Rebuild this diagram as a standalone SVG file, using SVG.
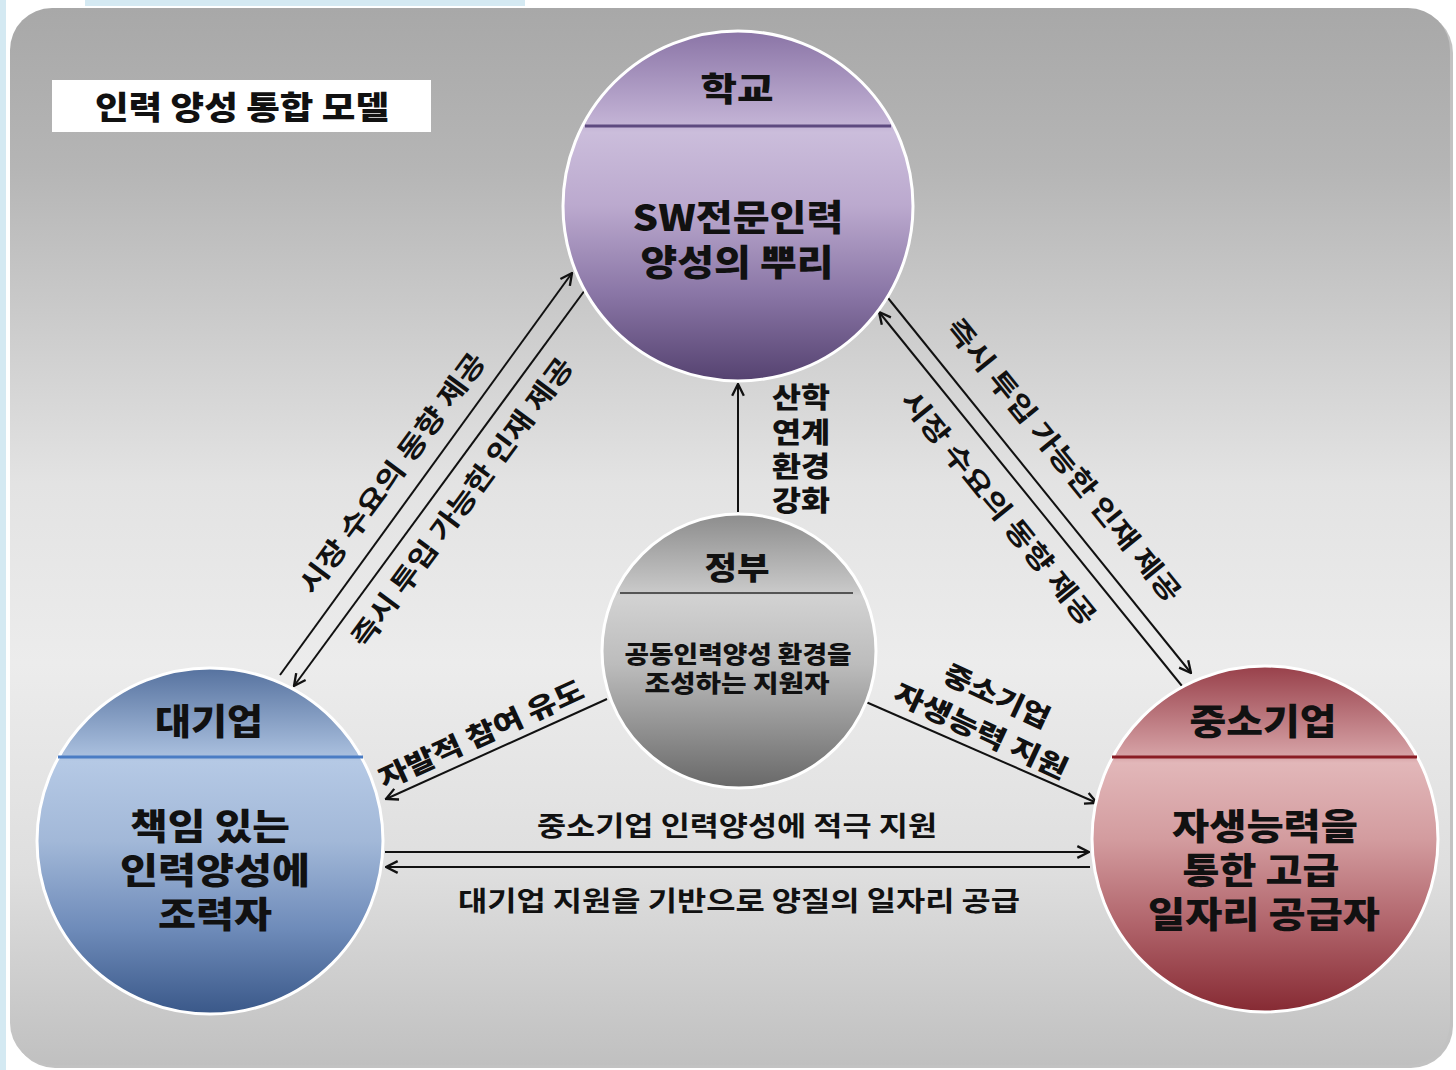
<svg xmlns="http://www.w3.org/2000/svg" width="1456" height="1070" viewBox="0 0 1456 1070">
<defs>
<style>
text{font-family:"Noto Sans CJK KR","Noto Sans CJK SC",sans-serif;font-weight:900;fill:#111;text-anchor:middle}
.head{font-size:36px}
.body{font-size:36px}
.gov{font-size:24px}
.lbl{font-size:27px;font-weight:700}
.conn line{stroke:#111;stroke-width:2;marker-end:url(#arr)}
.circ{stroke:#fff;stroke-width:3}
</style>
<marker id="arr" viewBox="0 0 12 12" markerUnits="userSpaceOnUse" markerWidth="14" markerHeight="14" refX="11" refY="6" orient="auto">
<path d="M1,1 L11,6 L1,11" fill="none" stroke="#111" stroke-width="2"/>
</marker>
<linearGradient id="bg" x1="0" y1="0" x2="0" y2="1">
<stop offset="0" stop-color="#a8a8a8"/>
<stop offset="0.15" stop-color="#b5b5b5"/>
<stop offset="0.45" stop-color="#e3e3e3"/>
<stop offset="0.62" stop-color="#ececec"/>
<stop offset="0.82" stop-color="#dedede"/>
<stop offset="1" stop-color="#c0c0c0"/>
</linearGradient>
<linearGradient id="gp" x1="0" y1="0" x2="0" y2="1">
<stop offset="0" stop-color="#8a74a6"/>
<stop offset="0.27" stop-color="#c4b4d6"/>
<stop offset="0.29" stop-color="#cbbddb"/>
<stop offset="0.5" stop-color="#bba9ce"/>
<stop offset="0.75" stop-color="#8a76a6"/>
<stop offset="1" stop-color="#554270"/>
</linearGradient>
<linearGradient id="gb" x1="0" y1="0" x2="0" y2="1">
<stop offset="0" stop-color="#56729f"/>
<stop offset="0.25" stop-color="#a8bedd"/>
<stop offset="0.27" stop-color="#b5c9e5"/>
<stop offset="0.5" stop-color="#a2b8d8"/>
<stop offset="0.75" stop-color="#6f8cba"/>
<stop offset="1" stop-color="#3a5889"/>
</linearGradient>
<linearGradient id="gr" x1="0" y1="0" x2="0" y2="1">
<stop offset="0" stop-color="#98404a"/>
<stop offset="0.26" stop-color="#d6a2a6"/>
<stop offset="0.28" stop-color="#e2b7b9"/>
<stop offset="0.5" stop-color="#d39c9f"/>
<stop offset="0.75" stop-color="#b0636a"/>
<stop offset="1" stop-color="#862a33"/>
</linearGradient>
<linearGradient id="gg" x1="0" y1="0" x2="0" y2="1">
<stop offset="0" stop-color="#8c8c8c"/>
<stop offset="0.28" stop-color="#c8c8c8"/>
<stop offset="0.3" stop-color="#d2d2d2"/>
<stop offset="0.55" stop-color="#bcbcbc"/>
<stop offset="0.8" stop-color="#8e8e8e"/>
<stop offset="1" stop-color="#686868"/>
</linearGradient>
</defs>
<rect x="0" y="0" width="1456" height="1070" fill="#ffffff"/>
<rect x="0" y="0" width="6" height="1070" fill="#d4e9f2"/>
<rect x="85" y="0" width="440" height="6" fill="#d4e9f2"/>
<rect x="13" y="11" width="1440" height="1057" rx="42" fill="#9a9a9a" opacity="0.6"/>
<rect x="10" y="8" width="1440" height="1057" rx="42" fill="url(#bg)"/>
<g id="title">
<rect x="52" y="80" width="379" height="52" fill="#fff"/>
<text x="242" y="119" style="font-size:32px" textLength="294" lengthAdjust="spacingAndGlyphs">인력 양성 통합 모델</text>
</g>
<g id="connectors" class="conn">
<line x1="280" y1="675" x2="572" y2="273"/>
<line x1="585" y1="290" x2="294" y2="686"/>
<line x1="888" y1="298" x2="1191" y2="673"/>
<line x1="1182" y1="686" x2="879" y2="312"/>
<line x1="738" y1="512" x2="738" y2="384"/>
<line x1="607" y1="699" x2="386" y2="799"/>
<line x1="866" y1="702" x2="1097" y2="803"/>
<line x1="385" y1="852" x2="1089" y2="852"/>
<line x1="1090" y1="867" x2="386" y2="867"/>
</g>
<g id="connector-labels">
<text class="lbl" transform="translate(392,473) rotate(-53.5)" x="0" y="10" textLength="292" lengthAdjust="spacingAndGlyphs">시장 수요의 동향 제공</text>
<text class="lbl" transform="translate(462,502) rotate(-53.5)" x="0" y="10" textLength="352" lengthAdjust="spacingAndGlyphs">즉시 투입 가능한 인재 제공</text>
<text class="lbl" transform="translate(1064,460) rotate(51)" x="0" y="10" textLength="355" lengthAdjust="spacingAndGlyphs">즉시 투입 가능한 인재 제공</text>
<text class="lbl" transform="translate(999,508) rotate(51)" x="0" y="10" textLength="292" lengthAdjust="spacingAndGlyphs">시장 수요의 동향 제공</text>
<text class="lbl" x="801" y="408" style="font-size:28px;font-weight:900" textLength="58" lengthAdjust="spacingAndGlyphs">산학</text>
<text class="lbl" x="801" y="443" style="font-size:28px;font-weight:900" textLength="58" lengthAdjust="spacingAndGlyphs">연계</text>
<text class="lbl" x="801" y="477" style="font-size:28px;font-weight:900" textLength="58" lengthAdjust="spacingAndGlyphs">환경</text>
<text class="lbl" x="801" y="511" style="font-size:28px;font-weight:900" textLength="58" lengthAdjust="spacingAndGlyphs">강화</text>
<text class="lbl" transform="translate(481,734) rotate(-24.5)" x="0" y="10" style="font-weight:900" textLength="222" lengthAdjust="spacingAndGlyphs">자발적 참여 유도</text>
<text class="lbl" transform="translate(997,696) rotate(25)" x="0" y="10" style="font-weight:900" textLength="114" lengthAdjust="spacingAndGlyphs">중소기업</text>
<text class="lbl" transform="translate(981,731) rotate(25)" x="0" y="10" style="font-weight:900" textLength="188" lengthAdjust="spacingAndGlyphs">자생능력 지원</text>
<text class="lbl" x="737" y="836" textLength="400" lengthAdjust="spacingAndGlyphs">중소기업 인력양성에 적극 지원</text>
<text class="lbl" x="739" y="911" textLength="562" lengthAdjust="spacingAndGlyphs">대기업 지원을 기반으로 양질의 일자리 공급</text>
</g>
<g id="school">
<circle class="circ" cx="738" cy="206" r="175" fill="url(#gp)"/>
<line x1="585" y1="126" x2="891" y2="126" stroke="#5e4a80" stroke-width="3"/>
<text class="head" x="737" y="101" style="font-size:33px" textLength="73" lengthAdjust="spacingAndGlyphs">학교</text>
<text class="body" x="738" y="231" textLength="211" lengthAdjust="spacingAndGlyphs">SW전문인력</text>
<text class="body" x="737" y="276" textLength="193" lengthAdjust="spacingAndGlyphs">양성의 뿌리</text>
</g>
<g id="government">
<circle class="circ" cx="739" cy="651" r="137" fill="url(#gg)"/>
<line x1="620" y1="593" x2="853" y2="593" stroke="#555" stroke-width="2"/>
<text x="737" y="579" style="font-size:31px" textLength="65" lengthAdjust="spacingAndGlyphs">정부</text>
<text class="gov" x="738" y="663" textLength="227" lengthAdjust="spacingAndGlyphs">공동인력양성 환경을</text>
<text class="gov" x="737" y="692" textLength="185" lengthAdjust="spacingAndGlyphs">조성하는 지원자</text>
</g>
<g id="large-company">
<circle class="circ" cx="210" cy="841" r="173" fill="url(#gb)"/>
<line x1="58" y1="757" x2="363" y2="757" stroke="#4a7cc4" stroke-width="3"/>
<text class="head" x="209" y="735" textLength="108" lengthAdjust="spacingAndGlyphs">대기업</text>
<text class="body" x="210" y="840" textLength="160" lengthAdjust="spacingAndGlyphs">책임 있는</text>
<text class="body" x="215" y="884" textLength="190" lengthAdjust="spacingAndGlyphs">인력양성에</text>
<text class="body" x="215" y="928" textLength="114" lengthAdjust="spacingAndGlyphs">조력자</text>
</g>
<g id="sme">
<circle class="circ" cx="1265" cy="839" r="173" fill="url(#gr)"/>
<line x1="1112" y1="757" x2="1417" y2="757" stroke="#8a1c24" stroke-width="3"/>
<text class="head" x="1263" y="735" textLength="147" lengthAdjust="spacingAndGlyphs">중소기업</text>
<text class="body" x="1265" y="840" textLength="186" lengthAdjust="spacingAndGlyphs">자생능력을</text>
<text class="body" x="1261" y="884" textLength="157" lengthAdjust="spacingAndGlyphs">통한 고급</text>
<text class="body" x="1264" y="928" textLength="232" lengthAdjust="spacingAndGlyphs">일자리 공급자</text>
</g>
</svg>
